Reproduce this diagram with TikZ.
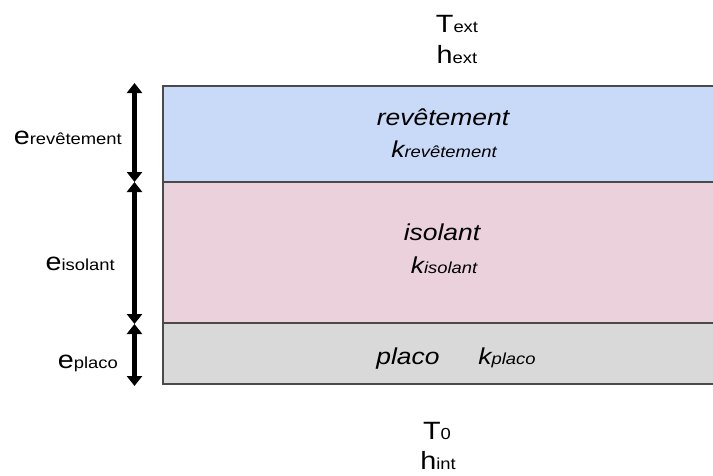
\documentclass[tikz,border=0pt]{standalone}
\usepackage{fontspec}
\setmainfont[FakeStretch=1.15]{Liberation Sans}
\usetikzlibrary{arrows.meta}

\definecolor{revcol}{HTML}{C9DAF8}
\definecolor{isocol}{HTML}{EAD1DC}
\definecolor{placocol}{HTML}{D9D9D9}
\definecolor{edgecol}{HTML}{4A4A4A}

\newcommand{\mainsz}{\fontsize{25}{27}\selectfont}
\newcommand{\subsz}{\fontsize{16}{18}\selectfont}
\newcommand{\namesz}{\fontsize{23}{25}\selectfont\itshape}

\tikzset{
  edge/.style={draw=edgecol, line width=2.2pt},
  dimarrow/.style={line width=5.5pt, {Triangle[length=10pt,width=15pt]}-{Triangle[length=10pt,width=15pt]}},
  lbl/.style={inner sep=0pt, anchor=base}
}

\begin{document}
\begin{tikzpicture}[x=1pt,y=-1pt]
	\useasboundingbox (0,0) rectangle (713,475);
	
	\coordinate (A) at (163,86);
	\coordinate (B) at (163,182);
	\coordinate (C) at (163,323);
	\coordinate (D) at (163,384);
	
	\coordinate (A2) at (713,86);
	\coordinate (B2) at (713,182);
	\coordinate (C2) at (713,323);
	\coordinate (D2) at (713,384);
	
	\fill[revcol] (A) rectangle (B2);
	\fill[isocol] (B) rectangle (C2);
	\fill[placocol] (C) rectangle (D2);
	
	\draw[edge] (A2) -- (A) -- (D) -- (D2);
	\draw[edge] (B) -- (B2);
	\draw[edge] (C) -- (C2);
	
	\coordinate (a) at (134.5,83);
	\coordinate (b) at (134.5,182);
	\coordinate (c) at (134.5,324);
	\coordinate (d) at (134.5,386);
	
	\draw[dimarrow] (a) -- (b);
	\draw[dimarrow] (b) -- (c);
	\draw[dimarrow] (c) -- (d);
	
	\node[lbl, anchor=base east] (erev) at (122,144) {\mainsz e\subsz revêtement};
	\node[lbl, anchor=base east] (eiso) at (115,270) {\mainsz e\subsz isolant};
	\node[lbl, anchor=base east] (epla) at (118,368) {\mainsz e\subsz placo};
	
	\node[lbl] (Text) at (457,32) {\mainsz T\subsz ext};
	\node[lbl] (hext) at (457,63) {\mainsz h\subsz ext};
	
	\node[lbl] (rev) at (443,125) {\namesz revêtement};
	\node[lbl] (krev) at (444,157) {\namesz k\subsz revêtement};
	
	\node[lbl] (iso) at (442,240) {\namesz isolant};
	\node[lbl] (kiso) at (444,273) {\namesz k\subsz isolant};
	
	\node[lbl] (pla) at (408,364) {\namesz placo};
	\node[lbl] (kpla) at (507,364) {\namesz k\subsz placo};
	
	\node[lbl] (T0) at (437,439) {\mainsz T\subsz 0};
	\node[lbl] (hint) at (438,469) {\mainsz h\subsz int};
\end{tikzpicture}
\end{document}
